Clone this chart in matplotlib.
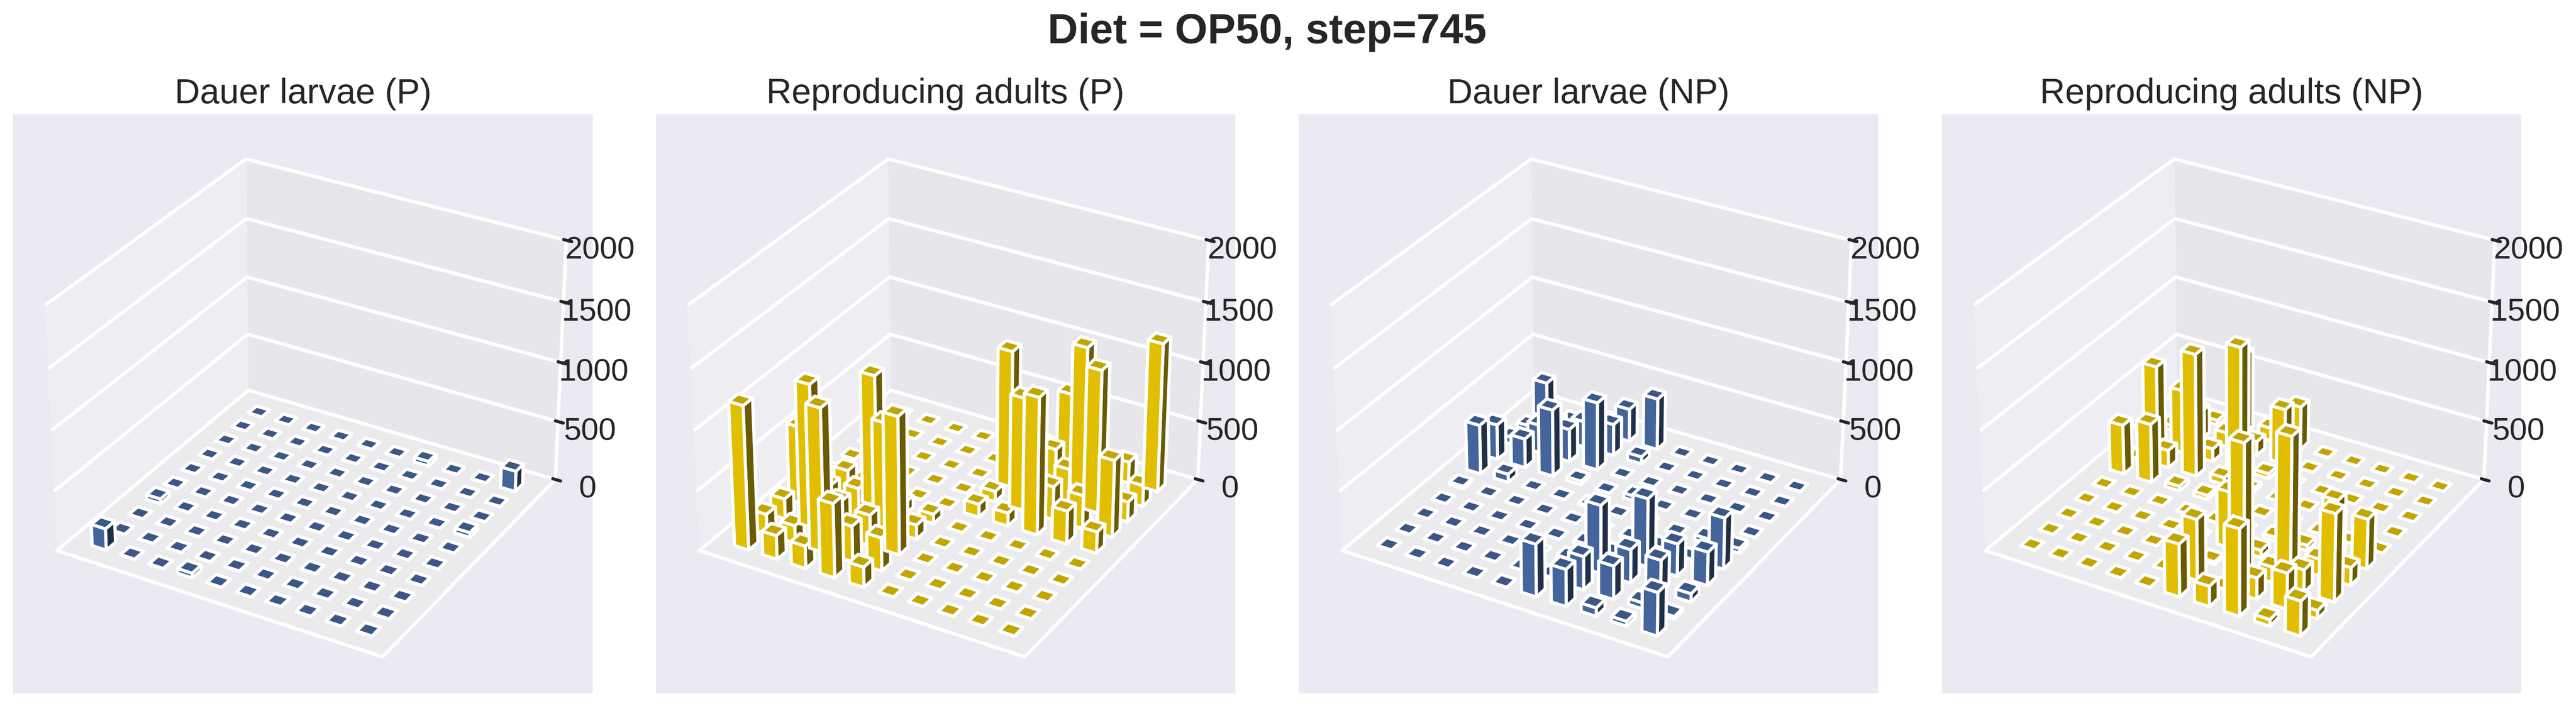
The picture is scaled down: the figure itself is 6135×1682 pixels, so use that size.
#!/usr/bin/env python3
# -*- coding: utf-8 -*-
"""Diet = OP50, step=745: 3D bar grids of worm counts per lattice cell"""

import numpy as np
import matplotlib
matplotlib.use("Agg")
import matplotlib.pyplot as plt
import seaborn as sns

sns.set_theme(style="darkgrid")
plt.rcParams["font.family"] = ["Liberation Sans", "DejaVu Sans"]
plt.rcParams["grid.linewidth"] = 2.0
plt.rcParams["axes.linewidth"] = 2.0
plt.rcParams["xtick.major.width"] = 1.8

# rows = x index, columns = y index
dauer_p = [
    [180, 0, 0, 40, 0, 0, 0, 0, 0, 0],
    [0, 0, 0, 0, 0, 0, 0, 0, 0, 0],
    [0, 0, 0, 0, 0, 0, 0, 0, 0, 0],
    [40, 0, 0, 0, 0, 0, 0, 0, 0, 0],
    [0, 0, 0, 0, 0, 0, 0, 0, 0, 0],
    [0, 0, 0, 0, 0, 0, 0, 0, 0, 0],
    [0, 0, 0, 0, 0, 0, 0, 0, 0, 40],
    [0, 0, 0, 0, 0, 0, 0, 0, 0, 0],
    [0, 0, 0, 0, 0, 0, 0, 0, 0, 0],
    [0, 0, 0, 0, 0, 0, 40, 0, 0, 175],
]
adults_p = [
    [1200, 170, 170, 650, 0, 0, 0, 0, 0, 0],
    [200, 150, 1200, 230, 230, 0, 0, 0, 0, 0],
    [190, 1200, 300, 280, 1100, 0, 0, 0, 0, 0],
    [620, 300, 260, 900, 100, 0, 0, 0, 0, 0],
    [170, 280, 1150, 120, 80, 0, 0, 0, 0, 0],
    [0, 0, 0, 0, 0, 110, 90, 1150, 0, 130],
    [0, 0, 0, 0, 0, 110, 950, 100, 270, 620],
    [0, 0, 0, 0, 0, 1150, 280, 300, 1200, 120],
    [0, 0, 0, 0, 0, 280, 280, 1200, 100, 180],
    [0, 0, 0, 0, 0, 180, 650, 170, 180, 1250],
]
dauer_np = [
    [0, 0, 0, 0, 20, 420, 300, 60, 40, 300],
    [0, 0, 0, 0, 0, 70, 250, 240, 150, 30],
    [0, 0, 0, 0, 0, 0, 570, 280, 220, 30],
    [0, 0, 0, 0, 0, 0, 30, 580, 270, 280],
    [0, 0, 0, 0, 0, 10, 0, 0, 60, 440],
    [440, 20, 40, 30, 0, 0, 40, 0, 0, 0],
    [310, 280, 570, 20, 20, 0, 0, 0, 0, 0],
    [70, 280, 280, 570, 20, 0, 0, 0, 0, 0],
    [40, 50, 270, 270, 0, 40, 0, 0, 0, 0],
    [360, 20, 70, 280, 430, 40, 0, 0, 0, 0],
]
adults_np = [
    [0, 0, 0, 0, 0, 420, 0, 680, 40, 0],
    [0, 0, 0, 0, 0, 500, 150, 540, 240, 40],
    [0, 0, 0, 0, 0, 40, 1040, 110, 120, 680],
    [0, 0, 0, 0, 0, 35, 60, 1050, 120, 110],
    [0, 0, 0, 0, 0, 0, 30, 40, 470, 370],
    [440, 510, 20, 470, 0, 0, 0, 0, 0, 0],
    [170, 0, 1080, 60, 30, 0, 0, 0, 0, 0],
    [720, 180, 130, 1080, 45, 0, 0, 0, 0, 0],
    [55, 300, 190, 140, 500, 0, 0, 0, 0, 0],
    [290, 70, 730, 150, 420, 0, 0, 0, 0, 0],
]

titles = ["Dauer larvae (P)", "Reproducing adults (P)", "Dauer larvae (NP)", "Reproducing adults (NP)"]
panels = [dauer_p, adults_p, dauer_np, adults_np]
colors = ["#4c72b0", "#ffd700", "#4c72b0", "#ffd700"]
z_ticks = [0, 500, 1000, 1500, 2000]

W, H = 6135, 1682
lefts = [31, 1561, 3092, 4624]
panel_w = 1381
panel_top, panel_bottom = 272, 1652

fig = plt.figure(figsize=(W / 300, H / 300), dpi=300)
fig.patch.set_facecolor("white")
fig.text(3018 / W, 1 - 103 / H, "Diet = OP50, step=745", ha="center", va="baseline",
         fontsize=24, fontweight="bold", color=".15")

for left, title, values, color in zip(lefts, titles, panels, colors):
    rect = [left / W, 1 - panel_bottom / H, panel_w / W, (panel_bottom - panel_top) / H]
    ax = fig.add_axes(rect, projection="3d")
    ax.set_facecolor("#EAEAF2")

    # zero cells keep a hair of height so the top face is the one painted last
    heights = np.maximum(np.array(values, dtype=float), 0.5)
    xx, yy = np.meshgrid(np.arange(10), np.arange(10), indexing="ij")
    ax.bar3d(xx.ravel() - 0.25, yy.ravel() - 0.25, np.zeros(100), 0.5, 0.5, heights.ravel(),
             color=color, edgecolor="white", linewidth=1.8)

    ax.set_xlim(-1, 10)
    ax.set_ylim(-1, 10)
    ax.set_zlim(0, 2000)
    ax.set_xticks([])
    ax.set_yticks([])
    ax.set_zticks(z_ticks)
    ax.tick_params(axis="z", labelsize=18, colors=".15")
    # title sits clear above the panel, not inside it
    fig.text((left + panel_w / 2) / W, 1 - 246 / H, title, ha="center", va="baseline",
             fontsize=20, color=".15")

fig.savefig("out.png", dpi=300)
